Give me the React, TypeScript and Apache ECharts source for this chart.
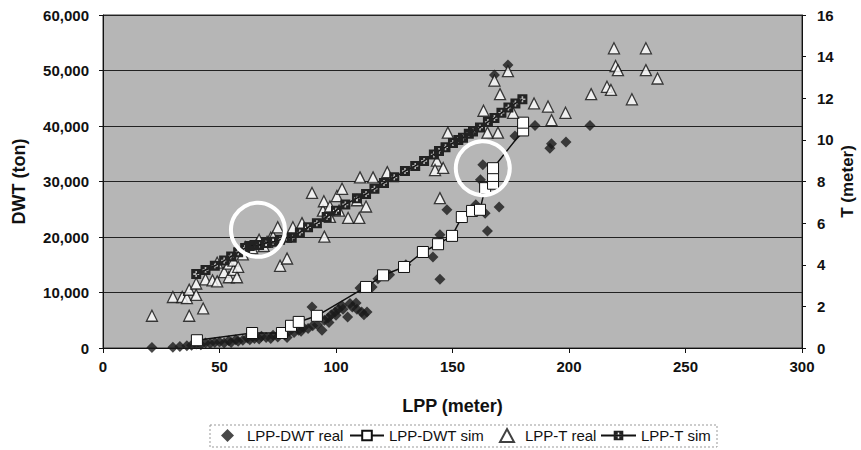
import React, { useEffect, useRef } from "react";
import * as echarts from "echarts";

// ---------- data ----------
const seriesNames = ["LPP-DWT real", "LPP-DWT sim", "LPP-T real", "LPP-T sim"];

// LPP (m), DWT (ton)
const dwtReal: [number, number][] = [
  [21, 100], [30, 150], [33, 250], [36, 400], [38, 500], [40, 700], [42, 600], [44, 900],
  [46, 800], [48, 1000], [50, 1100], [52, 900], [54, 1300], [55, 1000], [57, 1500], [58, 1200],
  [60, 1400], [62, 1800], [63, 1500], [65, 1700], [67, 1600], [68, 2100], [70, 1900], [72, 1700],
  [73, 2300], [75, 2000], [76, 2600], [78, 2400], [79, 1900], [80, 3000], [82, 2800], [84, 3200],
  [85, 3000], [86, 3700], [88, 3500], [89.7, 7400], [90, 4000], [92, 4200], [94, 3200], [95, 5000],
  [96.6, 5400], [97, 4600], [98, 6000], [99.6, 6500], [100, 5900], [101, 7000], [102.6, 7600],
  [103, 7000], [105, 5600], [106, 8000], [107, 7400], [108.6, 8100], [109, 7000], [110.3, 10800],
  [111, 6500], [112, 6000], [113.3, 6500], [115.5, 11000], [118, 12500], [123, 13200], [130, 15000],
  [141.6, 16400], [144.6, 12400], [144.6, 20400], [147.6, 24900], [160, 25800], [162, 30300],
  [163, 33000], [164.8, 29000], [164, 24300], [165, 21100], [168, 49200], [170, 25400],
  [173.8, 51000], [176.8, 38200], [185.4, 40100], [191.8, 36000], [192.5, 36800], [198.7, 37100],
  [209, 40100],
];

const dwtSim: [number, number][] = [
  [40.3, 1400], [64, 2700], [76.8, 2700], [80.7, 4000], [84, 4700], [91.8, 5800], [112.9, 11000],
  [120.2, 13100], [129.2, 14600], [137.3, 17300], [143.8, 18700], [149.8, 20200], [154, 23600],
  [158.4, 24700], [161.8, 24900], [164, 28800], [167.4, 29600], [167.4, 31000], [167.4, 32400],
  [180.3, 39200], [180.3, 40600],
];

// LPP (m), T (m)
const tReal: [number, number][] = [
  [21, 1.55], [30, 2.45], [34, 2.45], [36, 2.4], [37, 1.55], [37, 2.8], [40, 2.55], [40, 3.1],
  [43, 1.9], [44, 3.3], [47, 3.25], [49, 3.2], [49, 4.1], [52, 3.65], [54, 4.05], [54, 3.4],
  [56, 3.75], [56, 4.2], [57.5, 3.4], [58, 3.9], [60, 4.5], [61, 4.85], [64, 4.8], [66, 5.0],
  [67, 5.2], [69, 4.9], [70.4, 5.1], [72, 5.3], [73, 5.35], [75, 5.8], [76, 3.95], [79, 4.3],
  [81.5, 5.8], [85.4, 6.0], [89.7, 7.45], [94.4, 6.6], [95, 5.35], [94.8, 7.05], [97.4, 6.3],
  [97.4, 6.8], [100.4, 7.3], [101.3, 6.6], [102.6, 7.65], [105.2, 6.25], [109, 7.1], [110, 6.25],
  [110.3, 8.2], [112.9, 6.8], [115.9, 8.2], [122, 8.45], [143.3, 9.0], [142.5, 8.55], [144.6, 7.2],
  [146, 8.65], [148, 10.35], [163.3, 11.4], [165, 10.35], [168, 12.85], [170.4, 12.2],
  [169.5, 10.35], [173.8, 13.3], [176, 11.3], [185, 11.75], [191, 11.6], [192.5, 10.95],
  [198.5, 11.3], [209.5, 12.2], [216.3, 12.55], [218, 12.4], [219.3, 14.4], [220, 13.55],
  [221, 13.35], [227, 11.95], [233, 14.4], [233, 13.35], [238, 12.95],
];

const tSim: [number, number][] = [
  [40, 3.55], [44, 3.75], [48, 3.95], [52, 4.2], [55, 4.4], [58, 4.6], [61, 4.8], [63, 4.9],
  [65, 4.95], [67, 4.95], [70, 5.05], [73, 5.1], [76, 5.2], [79, 5.3], [81, 5.3], [84.5, 5.55],
  [88, 5.8], [91.8, 6.0], [96, 6.3], [100, 6.6], [104, 6.9], [109, 7.2], [112.9, 7.4],
  [116.5, 7.65], [120.6, 7.93], [125, 8.2], [129.6, 8.5], [134, 8.75], [137.8, 8.99], [142, 9.3],
  [144.2, 9.47], [147, 9.65], [150.2, 9.85], [152.5, 10.0], [154.5, 10.1], [157, 10.3],
  [158.8, 10.4], [161.8, 10.6], [165.2, 10.86], [168, 11.05], [171, 11.3], [174, 11.55],
  [177, 11.75], [180, 11.95],
];

// annotation circles (LPP, DWT)
const circleCenters: [number, number][] = [[66.5, 21300], [163, 32400]];

const FONT = "'Liberation Sans', Arial, sans-serif";
const crossSquare =
  "path://M0 0H10V10H0Z M4.2 2V4.2H2V5.8H4.2V8H5.8V5.8H8V4.2H5.8V2Z";

export default function App() {
  const ref = useRef<HTMLDivElement>(null);
  useEffect(() => {
    const chart = echarts.init(ref.current!, null, { renderer: "svg" });
    const boldLabel = { color: "#111", fontFamily: FONT, fontWeight: "bold" as const, fontSize: 15 };
    const nameStyle = { color: "#111", fontFamily: FONT, fontWeight: "bold" as const, fontSize: 18 };
    const legendText = { color: "#111", fontFamily: FONT, fontSize: 15 };
    const legendBase = { top: 428, padding: 0, itemGap: 0, selectedMode: false };
    chart.setOption({
      animation: false,
      backgroundColor: "#fff",
      grid: {
        left: 103,
        right: 59,
        top: 15,
        bottom: 102,
        outerBoundsMode: "none",
        containLabel: false,
        show: true,
        backgroundColor: "#b6b6b6",
        borderColor: "#333",
        borderWidth: 1,
      },
      xAxis: {
        type: "value",
        min: 0,
        max: 300,
        interval: 50,
        name: "LPP (meter)",
        nameLocation: "middle",
        nameGap: 49,
        nameTextStyle: nameStyle,
        axisLine: { show: true, lineStyle: { color: "#111", width: 1 } },
        axisTick: { show: true, inside: false, length: 5, lineStyle: { color: "#111" } },
        axisLabel: { ...boldLabel, margin: 11 },
        splitLine: { show: false },
      },
      yAxis: [
        {
          type: "value",
          min: 0,
          max: 60000,
          interval: 10000,
          name: "DWT (ton)",
          nameLocation: "middle",
          nameRotate: 90,
          nameGap: 75,
          nameTextStyle: nameStyle,
          axisLine: { show: true, lineStyle: { color: "#111", width: 1 } },
          axisTick: { show: true, inside: false, length: 4, lineStyle: { color: "#111" } },
          axisLabel: {
            ...boldLabel,
            margin: 14,
            formatter: (v: number) => v.toLocaleString("en-US"),
          },
          splitLine: { show: true, lineStyle: { color: "#222", width: 1 } },
        },
        {
          type: "value",
          min: 0,
          max: 16,
          interval: 2,
          position: "right",
          name: "T (meter)",
          nameLocation: "middle",
          nameRotate: 90,
          nameGap: 37,
          nameMoveOverlap: false,
          nameTextStyle: { ...nameStyle, fontSize: 17 },
          axisLine: { show: true, lineStyle: { color: "#111", width: 1 } },
          axisTick: { show: true, inside: false, length: 4, lineStyle: { color: "#111" } },
          axisLabel: { ...boldLabel, margin: 15 },
          splitLine: { show: false },
        },
      ],
      legend: [
        {
          ...legendBase,
          data: [seriesNames[0]],
          left: 221,
          itemWidth: 13,
          itemHeight: 13,
          textStyle: { ...legendText, padding: [0, 0, 0, 8] },
        },
        {
          ...legendBase,
          data: [seriesNames[1]],
          left: 349,
          itemWidth: 34,
          itemHeight: 12,
          textStyle: legendText,
        },
        {
          ...legendBase,
          data: [seriesNames[2]],
          left: 499,
          itemWidth: 14,
          itemHeight: 13,
          textStyle: { ...legendText, padding: [0, 0, 0, 6] },
        },
        {
          ...legendBase,
          data: [seriesNames[3]],
          left: 600,
          itemWidth: 35,
          itemHeight: 12,
          textStyle: legendText,
        },
      ],
      series: [
        {
          name: seriesNames[0],
          type: "scatter",
          yAxisIndex: 0,
          data: dwtReal,
          symbol: "diamond",
          symbolSize: 11,
          itemStyle: { color: "#1a1a1a" },
          z: 2,
        },
        {
          name: seriesNames[1],
          type: "line",
          yAxisIndex: 0,
          data: dwtSim,
          symbol: "rect",
          symbolSize: 11,
          showAllSymbol: true,
          lineStyle: { color: "#111", width: 1.5 },
          itemStyle: { color: "#fff", borderColor: "#111", borderWidth: 1 },
          z: 3,
        },
        {
          name: seriesNames[2],
          type: "scatter",
          yAxisIndex: 1,
          data: tReal,
          symbol: "triangle",
          symbolSize: 11,
          itemStyle: { color: "#fff", borderColor: "#111", borderWidth: 1.3 },
          z: 4,
        },
        {
          name: seriesNames[3],
          type: "line",
          yAxisIndex: 1,
          data: tSim,
          symbol: crossSquare,
          symbolSize: 10,
          showAllSymbol: true,
          lineStyle: { color: "#111", width: 1.5 },
          itemStyle: { color: "#222" },
          z: 5,
        },
      ],
    });
    const circles = circleCenters.map((c) => {
      const p = chart.convertToPixel({ xAxisIndex: 0, yAxisIndex: 0 }, c) as number[];
      return {
        type: "circle",
        shape: { cx: p[0], cy: p[1], r: 27 },
        style: { fill: "none", stroke: "#fff", lineWidth: 4 },
        z: 100,
        silent: true,
      };
    });
    chart.setOption({
      graphic: [
        ...circles,
        {
          type: "rect",
          shape: { x: 210, y: 425, width: 507, height: 22 },
          style: { fill: "none", stroke: "#999", lineWidth: 1, lineDash: [2, 2] },
          z: 0,
          silent: true,
        },
      ],
    });
    return () => chart.dispose();
  }, []);
  return (
    <div
      ref={ref}
      style={{ position: "absolute", left: 0, top: 0, width: 861, height: 450 }}
    />
  );
}
